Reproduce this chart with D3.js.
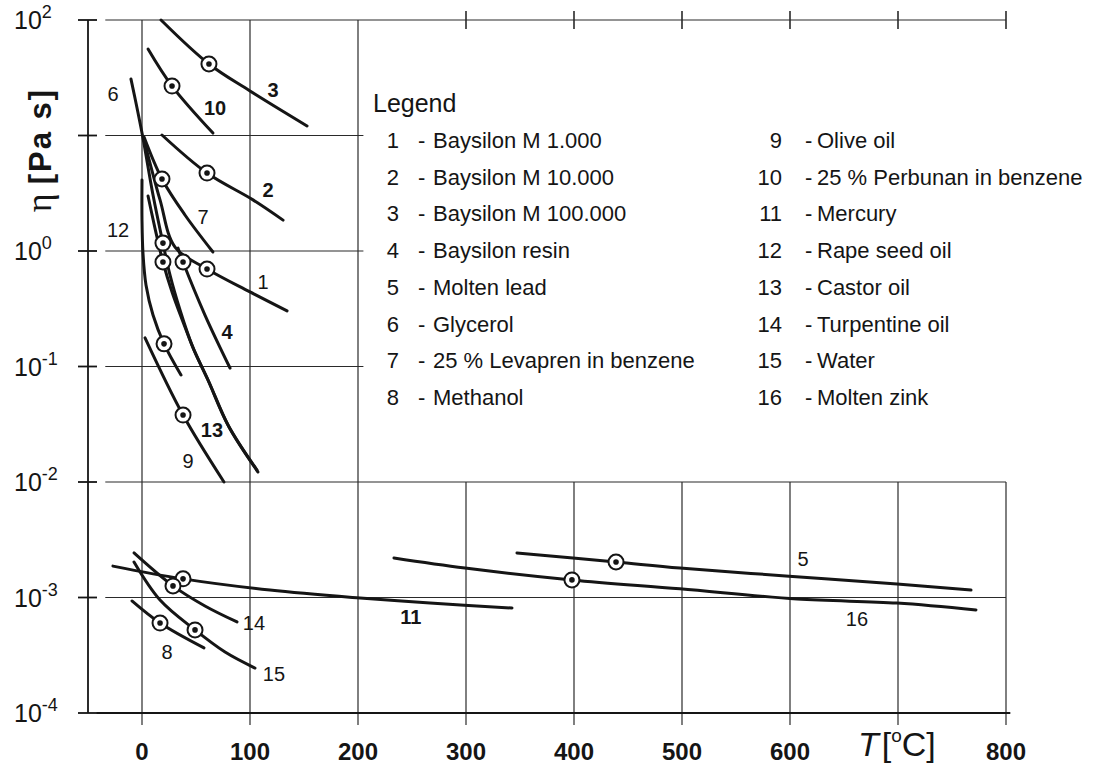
<!DOCTYPE html>
<html>
<head>
<meta charset="utf-8">
<script src="https://cdn.jsdelivr.net/npm/d3@7"></script>
<style>
  body { margin: 0; background: #fff; }
  svg { display: block; }
</style>
</head>
<body>
<div id="chart"></div>
<script>
// viscosity curves as [T in °C, eta in Pa s]
const curve1 = [[1.9, 9.14], [16.7, 2.77], [30.6, 1.08], [60.2, 0.698], [100, 0.442], [134.3, 0.303]];
const curve2 = [[18.5, 10.1], [60.2, 4.73], [102.8, 2.77], [130.6, 1.85]];
const curve3 = [[17.6, 100], [62.0, 41.6], [100, 24.3], [152.8, 12.1]];
const curve4 = [[33.3, 1.06], [38.0, 0.803], [58.3, 0.279], [81.5, 0.097]];
const curve5 = [[347.2, 2.43e-3], [438.9, 2.03e-3], [498.1, 1.80e-3], [599.1, 1.53e-3], [699.1, 1.31e-3], [767.6, 1.16e-3]];
const curve6 = [[-10.2, 30.8], [-4.6, 17.3], [0.9, 9.51], [10.2, 3.05], [19.4, 1.17], [25.9, 0.620], [35.2, 0.308],
  [46.3, 0.153], [61.1, 0.0764], [79.6, 0.0312], [106.5, 0.0127]];
const curve7 = [[1.9, 9.70], [18.5, 4.20], [39.8, 2.05], [65.7, 0.980]];
const curve8 = [[-9.3, 9.33e-4], [16.7, 6.01e-4], [57.4, 3.66e-4]];
const curve9 = [[2.8, 0.177], [38.0, 0.0380], [75.9, 0.0100]];
const curve10 = [[5.6, 56.1], [27.8, 26.8], [65.7, 10.5]];
const curve11 = [[-26.9, 1.87e-3], [38.0, 1.45e-3], [118.5, 1.16e-3], [201.9, 9.90e-4], [266.7, 8.96e-4], [342.6, 8.11e-4]];
const curve12 = [[0, 4.12], [0, 1.85], [0.9, 0.961], [3.7, 0.508], [10.2, 0.279], [20.4, 0.157], [36.1, 0.0844]];
const curve13 = [[5.6, 2.99], [12.0, 1.58], [19.4, 0.803], [27.8, 0.442], [38.0, 0.243], [48.1, 0.139],
  [62.0, 0.0734], [80.6, 0.0299], [107.4, 0.0122]];
const curve14 = [[-7.4, 2.43e-3], [28.7, 1.26e-3], [58.3, 8.44e-4], [88.0, 6.14e-4]];
const curve15 = [[-7.4, 2.03e-3], [16.7, 9.51e-4], [49.1, 5.24e-4], [76.9, 3.37e-4], [104.6, 2.45e-4]];
const curve16 = [[233.3, 2.20e-3], [299.1, 1.80e-3], [398.1, 1.42e-3], [498.1, 1.19e-3], [606.5, 9.70e-4],
  [699.1, 8.96e-4], [772.2, 7.80e-4]];

// measured point (circle) on each curve, in curve order 1..16
const markerT = [60.2, 60.2, 62.0, 38.0, 438.9, 19.4, 18.5, 16.7, 38.0, 27.8, 38.0, 20.4, 19.4, 28.7, 49.1, 398.1];
const markerEta = [0.698, 4.73, 41.6, 0.803, 2.03e-3, 1.17, 4.20, 6.01e-4, 0.0380, 26.8, 1.45e-3, 0.157, 0.803,
  1.26e-3, 5.24e-4, 1.42e-3];

// where the curve numbers sit, in curve order 1..16
const labelT = [112, 116.7, 121.3, 78.7, 612, -26.9, 56.5, 23.1, 42.6, 67.6, 249, -22.2, 64.8, 103.7, 122.2, 662];
const labelEta = [0.54, 3.37, 24.8, 0.199, 2.15e-3, 22.9, 1.97, 3.37e-4, 0.0152, 17.3, 6.78e-4, 1.52, 0.0282,
  6.01e-4, 2.18e-4, 6.52e-4];

const legendNames = [
  "Baysilon M 1.000", "Baysilon M 10.000", "Baysilon M 100.000", "Baysilon resin",
  "Molten lead", "Glycerol", "25 % Levapren in benzene", "Methanol",
  "Olive oil", "25 % Perbunan in benzene", "Mercury", "Rape seed oil",
  "Castor oil", "Turpentine oil", "Water", "Molten zink"
];

const xTicks = [0, 100, 200, 300, 400, 500, 600, 700, 800];
const xTickLabels = ["0", "100", "200", "300", "400", "500", "600", "", "800"];
const yTicks = [1e-4, 1e-3, 1e-2, 1e-1, 1, 10, 100];
// 10^1 carries no label, the axis title sits there
const yExponents = ["-4", "-3", "-2", "-1", "0", "", "2"];

const curves = [curve1, curve2, curve3, curve4, curve5, curve6, curve7, curve8,
  curve9, curve10, curve11, curve12, curve13, curve14, curve15, curve16];

const sans = "'Liberation Sans', Arial, Helvetica, sans-serif";
const ink = "#151515";

const svg = d3.select("#chart")
  .append("svg")
  .attr("width", 1102)
  .attr("height", 766)
  .style("background", "#fff");

const x = d3.scaleLinear().domain([-50, 800]).range([88, 1006]);
const y = d3.scaleLog().domain([1e-4, 1e2]).range([713, 20]);

// grid
const grid = svg.append("g").attr("stroke", "#2a2a2a").attr("stroke-width", 1.2);

grid.selectAll("line.v")
  .data(xTicks)
  .join("line")
  .attr("x1", (d) => x(d))
  .attr("x2", (d) => x(d))
  .attr("y1", (d) => (d <= 200 ? y(100) : y(1e-2)))
  .attr("y2", y(1e-4) + 12);

grid.selectAll("line.h")
  .data(yTicks.filter((d) => d > 1e-4))
  .join("line")
  .attr("x1", x(-34))
  .attr("x2", (d) => (d >= 0.1 && d <= 10 ? x(205) : x(800)))
  .attr("y1", (d) => y(d))
  .attr("y2", (d) => y(d));

// short ticks on the top edge
grid.selectAll("line.top")
  .data(xTicks.filter((d) => d >= 300))
  .join("line")
  .attr("x1", (d) => x(d))
  .attr("x2", (d) => x(d))
  .attr("y1", y(100) - 9)
  .attr("y2", y(100) + 9)
  .attr("stroke-width", 1.6);

// left axis with I-beam ticks
const axis = svg.append("g").attr("stroke", ink).attr("stroke-width", 1.8);
axis.append("line")
  .attr("x1", 88).attr("x2", 88)
  .attr("y1", y(100)).attr("y2", y(1e-4));
axis.selectAll("line.yt")
  .data(yTicks)
  .join("line")
  .attr("x1", 78).attr("x2", 97)
  .attr("y1", (d) => y(d)).attr("y2", (d) => y(d));

// bottom axis line
axis.append("line")
  .attr("x1", x(-42)).attr("x2", x(804))
  .attr("y1", y(1e-4)).attr("y2", y(1e-4))
  .attr("stroke-width", 2.2);

// y tick labels 10^n
const yLab = svg.append("g")
  .attr("font-family", sans)
  .attr("fill", ink);
yTicks.forEach((d, i) => {
  if (!yExponents[i]) return;
  const t = yLab.append("text")
    .attr("x", 14)
    .attr("y", y(d) + 9);
  t.append("tspan").attr("font-size", 25).text("10");
  t.append("tspan").attr("font-size", 18).attr("dy", -11).text(yExponents[i]);
});

// x tick labels
svg.append("g")
  .attr("font-family", sans)
  .attr("font-weight", "bold")
  .attr("font-size", 24)
  .attr("fill", ink)
  .attr("text-anchor", "middle")
  .selectAll("text")
  .data(xTicks)
  .join("text")
  .attr("x", (d) => x(d))
  .attr("y", 760)
  .text((d, i) => xTickLabels[i]);

// axis titles
const xt = svg.append("text")
  .attr("x", 858)
  .attr("y", 756)
  .attr("font-family", sans)
  .attr("font-size", 34)
  .attr("fill", ink);
xt.append("tspan").attr("font-style", "italic").text("T");
xt.append("tspan").attr("dx", 3).text("[");
xt.append("tspan").attr("font-size", 19).attr("dy", -14).text("o");
xt.append("tspan").attr("dy", 14).text("C]");

const yt = svg.append("text")
  .attr("transform", "translate(51,150) rotate(-90)")
  .attr("text-anchor", "middle")
  .attr("fill", ink);
yt.append("tspan")
  .attr("font-family", "'Liberation Serif', 'DejaVu Serif', serif")
  .attr("font-size", 36)
  .text("η ");
yt.append("tspan")
  .attr("font-family", sans)
  .attr("font-weight", "bold")
  .attr("font-size", 31)
  .attr("letter-spacing", 2)
  .text("[Pa s]");

// curves
const line = d3.line()
  .x((d) => x(d[0]))
  .y((d) => y(d[1]))
  .curve(d3.curveCatmullRom.alpha(0.5));

svg.append("g")
  .attr("fill", "none")
  .attr("stroke", ink)
  .attr("stroke-width", 3)
  .attr("stroke-linecap", "round")
  .selectAll("path")
  .data(curves)
  .join("path")
  .attr("d", line);

// measured points
const marks = svg.append("g")
  .selectAll("g")
  .data(d3.range(16))
  .join("g")
  .attr("transform", (i) => `translate(${x(markerT[i])},${y(markerEta[i])})`);
marks.append("circle")
  .attr("r", 7.5)
  .attr("fill", "#fff")
  .attr("stroke", ink)
  .attr("stroke-width", 2);
marks.append("circle")
  .attr("r", 2.8)
  .attr("fill", ink);

// curve numbers
const boldNums = new Set([2, 3, 4, 10, 11, 13]);
svg.append("g")
  .attr("font-family", sans)
  .attr("font-size", 20)
  .attr("fill", ink)
  .attr("text-anchor", "middle")
  .attr("dominant-baseline", "central")
  .selectAll("text")
  .data(d3.range(16))
  .join("text")
  .attr("x", (i) => x(labelT[i]))
  .attr("y", (i) => y(labelEta[i]))
  .attr("font-weight", (i) => (boldNums.has(i + 1) ? "bold" : "normal"))
  .text((i) => i + 1);

// legend
const legend = svg.append("g")
  .attr("font-family", sans)
  .attr("fill", ink);
legend.append("text")
  .attr("x", 373)
  .attr("y", 112)
  .attr("font-size", 25)
  .text("Legend");

const rows = legend.selectAll("g.row")
  .data(legendNames)
  .join("g")
  .attr("font-size", 22)
  .attr("transform", (d, i) => {
    const col = i < 8 ? 0 : 1;
    const row = i % 8;
    return `translate(${col ? 782 : 399},${148 + row * 36.7})`;
  });
rows.append("text")
  .attr("text-anchor", "end")
  .text((d, i) => i + 1);
rows.append("text")
  .attr("x", (d, i) => (i < 8 ? 19 : 23))
  .text("-");
rows.append("text")
  .attr("x", (d, i) => (i < 8 ? 34 : 35))
  .text((d) => d);
</script>
</body>
</html>
